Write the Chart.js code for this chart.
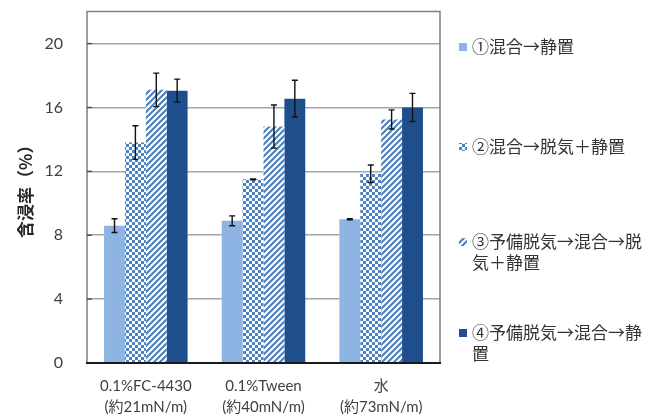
<!DOCTYPE html>
<html>
<head>
<meta charset="utf-8">
<script src="https://cdn.jsdelivr.net/npm/chart.js@4.4.0/dist/chart.umd.min.js"></script>
<style>
  html, body { margin: 0; padding: 0; background: #ffffff; }
  #wrap { width: 655px; height: 417px; position: relative; }
</style>
</head>
<body>
<div id="wrap"><canvas id="c" width="655" height="417"></canvas></div>
<script>
// Categories (surfactant solutions) and the four preparation procedures
const categories = [
  ['0.1%FC-4430', '(約21mN/m)'],
  ['0.1%Tween', '(約40mN/m)'],
  ['水', '(約73mN/m)']
];
const seriesNames = [
  ['①混合→静置'],
  ['②混合→脱気＋静置'],
  ['③予備脱気→混合→脱', '気＋静置'],
  ['④予備脱気→混合→静', '置']
];
// Impregnation ratio (%) and standard deviations
const mixRest        = [8.6, 8.9, 9.0];
const mixRestErr     = [0.43, 0.31, 0.04];
const mixDegas       = [13.8, 11.5, 11.85];
const mixDegasErr    = [1.05, 0.03, 0.55];
const preDegasDegas  = [17.1, 14.8, 15.25];
const preDegasDegasErr = [1.05, 1.35, 0.6];
const preDegasRest   = [17.05, 16.55, 16.0];
const preDegasRestErr = [0.72, 1.15, 0.88];
const yTicks = [0, 4, 8, 12, 16, 20];

// Fill patterns for the hatched series
function checkerPattern() {
  const t = document.createElement('canvas');
  t.width = 6; t.height = 6;
  const g = t.getContext('2d');
  g.fillStyle = '#ffffff'; g.fillRect(0, 0, 6, 6);
  g.fillStyle = '#4f81bd';
  g.fillRect(0, 0, 3, 3); g.fillRect(3, 3, 3, 3);
  return g.createPattern(t, 'repeat');
}
function stripePattern() {
  const t = document.createElement('canvas');
  t.width = 6; t.height = 6;
  const g = t.getContext('2d');
  g.fillStyle = '#ffffff'; g.fillRect(0, 0, 6, 6);
  g.strokeStyle = '#4f81bd'; g.lineWidth = 2.2;
  g.beginPath();
  g.moveTo(-1, 7); g.lineTo(7, -1);
  g.moveTo(-4, 4); g.lineTo(4, -4);
  g.moveTo(2, 10); g.lineTo(10, 2);
  g.stroke();
  return g.createPattern(t, 'repeat');
}

const fills = ['#8db4e2', checkerPattern(), stripePattern(), '#1f4e8c'];
const values = [mixRest, mixDegas, preDegasDegas, preDegasRest];
const errors = [mixRestErr, mixDegasErr, preDegasDegasErr, preDegasRestErr];

const datasets = values.map((v, i) => ({
  label: seriesNames[i].join(''),
  data: v,
  err: errors[i],
  legendLines: seriesNames[i],
  backgroundColor: fills[i],
  borderWidth: 0,
  categoryPercentage: 0.71,
  barPercentage: 1.0
}));

// Plot frame, inner tick marks, error bars and the side legend
const decorations = {
  id: 'decorations',
  afterDatasetsDraw(chart) {
    const ctx = chart.ctx;
    const a = chart.chartArea;
    const ys = chart.scales.y;
    ctx.save();
    // frame top / right
    ctx.strokeStyle = '#7f7f7f';
    ctx.lineWidth = 1.5;
    ctx.beginPath();
    ctx.moveTo(a.left, a.bottom); ctx.lineTo(a.left, a.top);
    ctx.lineTo(a.right, a.top); ctx.lineTo(a.right, a.bottom);
    ctx.stroke();
    // inner tick marks on value axis
    ctx.strokeStyle = '#404040';
    ctx.lineWidth = 1.2;
    yTicks.forEach(t => {
      const y = ys.getPixelForValue(t);
      ctx.beginPath(); ctx.moveTo(a.left, y); ctx.lineTo(a.left + 5, y); ctx.stroke();
    });
    // bottom axis
    ctx.strokeStyle = '#1a1a1a';
    ctx.lineWidth = 1.8;
    ctx.beginPath(); ctx.moveTo(a.left - 1, a.bottom); ctx.lineTo(a.right + 1, a.bottom); ctx.stroke();
    // error bars
    ctx.strokeStyle = '#111111';
    ctx.lineWidth = 1.4;
    chart.data.datasets.forEach((ds, di) => {
      const meta = chart.getDatasetMeta(di);
      meta.data.forEach((bar, i) => {
        const v = ds.data[i], e = ds.err[i];
        const x = bar.x;
        const yT = ys.getPixelForValue(v + e);
        const yB = ys.getPixelForValue(v - e);
        ctx.beginPath();
        ctx.moveTo(x, yT); ctx.lineTo(x, yB);
        ctx.moveTo(x - 3, yT); ctx.lineTo(x + 3, yT);
        ctx.moveTo(x - 3, yB); ctx.lineTo(x + 3, yB);
        ctx.stroke();
      });
    });
    // legend
    const itemY = [47, 147, 242, 333];
    ctx.font = '17px "Noto Sans CJK JP"';
    ctx.textBaseline = 'middle';
    chart.data.datasets.forEach((ds, di) => {
      const y0 = itemY[di];
      ctx.fillStyle = ds.backgroundColor;
      ctx.fillRect(459, y0 - 4, 8, 8);
      ctx.fillStyle = '#333333';
      ds.legendLines.forEach((line, li) => {
        ctx.fillText(line, 472, y0 + li * 21);
      });
    });
    ctx.restore();
  }
};

new Chart(document.getElementById('c'), {
  type: 'bar',
  data: { labels: categories, datasets },
  plugins: [decorations],
  options: {
    responsive: false,
    animation: false,
    layout: { padding: { left: 0, right: 215, top: 11, bottom: 0 } },
    plugins: { legend: { display: false }, tooltip: { enabled: false } },
    scales: {
      x: {
        grid: { display: false, drawTicks: false },
        border: { display: false },
        ticks: {
          color: '#404040',
          font: { family: 'Lato, "Noto Sans CJK JP"', size: 15, lineHeight: 1.45 },
          padding: 12,
          maxRotation: 0
        },
        afterFit(scale) { scale.height = 54; }
      },
      y: {
        min: 0, max: 22,
        afterBuildTicks(scale) { scale.ticks = yTicks.map(v => ({ value: v })); },
        grid: { color: '#a6a6a6', lineWidth: 1.5, drawTicks: true, tickLength: 22, tickColor: 'rgba(0,0,0,0)' },
        border: { display: false },
        ticks: {
          color: '#404040',
          font: { family: 'Lato', size: 16 },
          padding: 2
        },
        title: {
          display: true,
          text: '含浸率（%）',
          color: '#262626',
          font: { family: '"Noto Sans CJK JP"', size: 17, weight: 'bold' },
          padding: { top: 15, bottom: 0 }
        },
        afterFit(scale) { scale.width = 87; }
      }
    }
  }
});
</script>
</body>
</html>
